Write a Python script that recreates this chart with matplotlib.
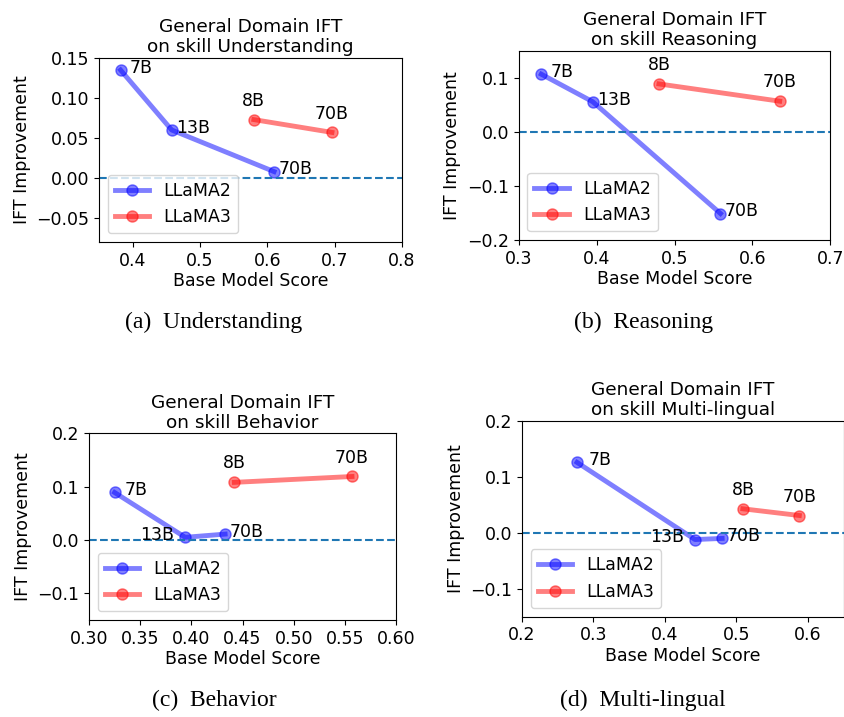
import matplotlib
matplotlib.use("Agg")
import matplotlib.pyplot as plt

# Data (base score, IFT improvement)
skills = ["Understanding", "Reasoning", "Behavior", "Multi-lingual"]
captions = ["(a)  Understanding", "(b)  Reasoning", "(c)  Behavior", "(d)  Multi-lingual"]

llama2_sizes = ["7B", "13B", "70B"]
llama3_sizes = ["8B", "70B"]

llama2_x = [[0.382, 0.458, 0.610],
            [0.329, 0.395, 0.559],
            [0.325, 0.394, 0.433],
            [0.277, 0.442, 0.480]]
llama2_y = [[0.135, 0.060, 0.008],
            [0.107, 0.056, -0.151],
            [0.089, 0.005, 0.011],
            [0.126, -0.012, -0.010]]
llama3_x = [[0.580, 0.696],
            [0.480, 0.635],
            [0.442, 0.557],
            [0.509, 0.588]]
llama3_y = [[0.073, 0.057],
            [0.089, 0.057],
            [0.108, 0.119],
            [0.043, 0.031]]

# tick values per panel
xticks = [[0.4, 0.5, 0.6, 0.7, 0.8],
          [0.3, 0.4, 0.5, 0.6, 0.7],
          [0.30, 0.35, 0.40, 0.45, 0.50, 0.55, 0.60],
          [0.2, 0.3, 0.4, 0.5, 0.6]]
yticks = [[-0.05, 0.00, 0.05, 0.10, 0.15],
          [-0.2, -0.1, 0.0, 0.1],
          [-0.1, 0.0, 0.1, 0.2],
          [-0.1, 0.0, 0.1, 0.2]]

# layout / style
xlims = [(0.35, 0.8), (0.3, 0.7), (0.3, 0.6), (0.2, 0.65)]
ylims = [(-0.08, 0.15), (-0.2, 0.15), (-0.15, 0.2), (-0.15, 0.2)]
axes_pos = [[0.1173, 0.6625, 0.3590, 0.2566],
            [0.6146, 0.6653, 0.3692, 0.2636],
            [0.1055, 0.1353, 0.3637, 0.2604],
            [0.6185, 0.1399, 0.3811, 0.2729]]
caption_pos = [(0.2536, 0.551), (0.7627, 0.551), (0.2536, 0.0227), (0.7618, 0.0227)]
# label offsets in points (dx, dy, ha)
l2_off = [[(6.5, -2, "left"), (3, -2, "left"), (3, -2, "left")],
          [(7, -2, "left"), (3.5, -2, "left"), (3, -2, "left")],
          [(7, -2, "left"), (-8, -2, "right"), (3, -2, "left")],
          [(8, -2, "left"), (-8, -2, "right"), (3.5, -2, "left")]]
l3_dy = 10

fs = 12.5
plt.rcParams['font.family'] = 'DejaVu Sans'
plt.rcParams['font.size'] = fs

fig = plt.figure(figsize=(8.44, 7.17), dpi=100)

for i, skill in enumerate(skills):
    ax = fig.add_axes(axes_pos[i])
    ax.plot(llama2_x[i], llama2_y[i], color='blue', alpha=0.5, lw=3.5,
            marker='o', markersize=8, label='LLaMA2')
    ax.plot(llama3_x[i], llama3_y[i], color='red', alpha=0.5, lw=3.5,
            marker='o', markersize=8, label='LLaMA3')
    for j, s in enumerate(llama2_sizes):
        dx, dy, ha = l2_off[i][j]
        ax.annotate(s, (llama2_x[i][j], llama2_y[i][j]), xytext=(dx, dy),
                    textcoords='offset points', ha=ha, va='baseline', fontsize=fs)
    for j, s in enumerate(llama3_sizes):
        ax.annotate(s, (llama3_x[i][j], llama3_y[i][j]), xytext=(0, l3_dy),
                    textcoords='offset points', ha='center', va='baseline', fontsize=fs)
    ax.axhline(0, color='C0', linestyle='--', lw=1.5)
    ax.set_xticks(xticks[i])
    ax.set_yticks(yticks[i])
    ax.set_xlim(*xlims[i])
    ax.set_ylim(*ylims[i])
    ax.tick_params(labelsize=fs)
    ax.set_title(f"General Domain IFT\non skill {skill}", fontsize=13.3, pad=4,
                 linespacing=1.15)
    ax.set_xlabel("Base Model Score", fontsize=fs, labelpad=2)
    ax.set_ylabel("IFT Improvement", fontsize=fs, labelpad=4)
    ax.legend(loc='lower left', fontsize=fs)
    fig.text(caption_pos[i][0], caption_pos[i][1], captions[i],
             family='Liberation Serif', fontsize=17, ha='center', va='center')

fig.savefig("out.png", dpi=100)
